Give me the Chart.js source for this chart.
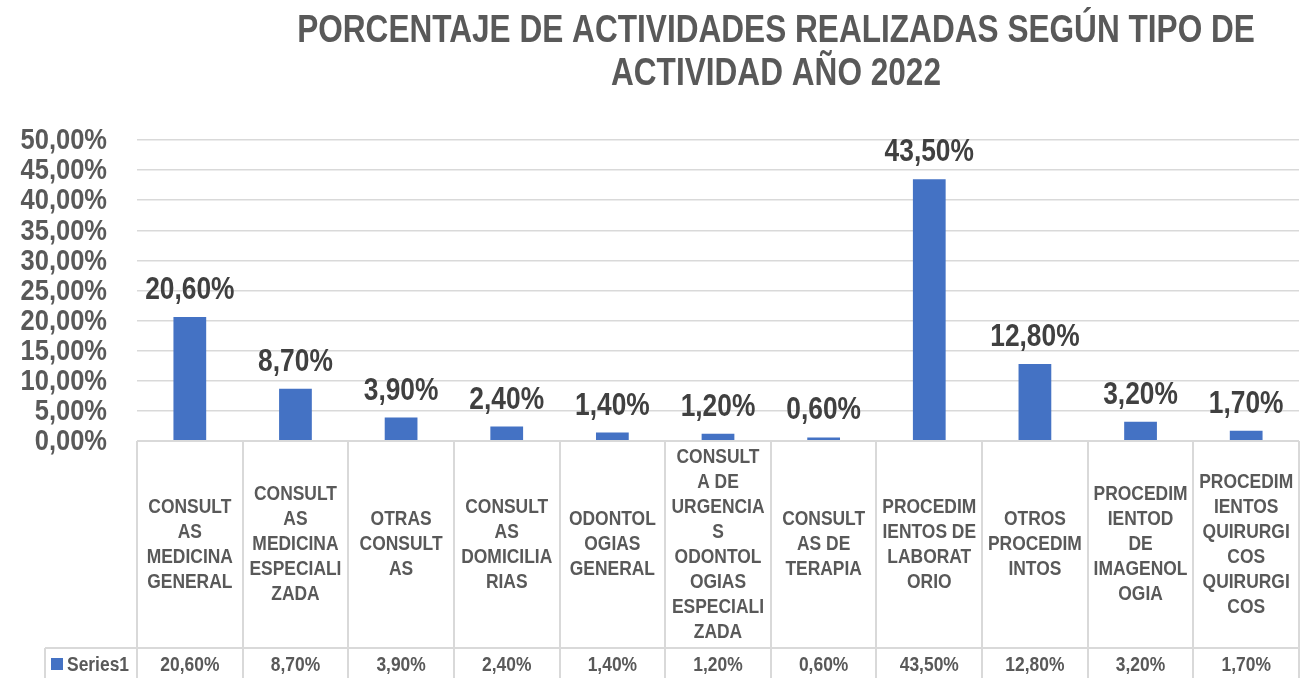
<!DOCTYPE html>
<html>
<head>
<meta charset="utf-8">
<script src="https://cdn.jsdelivr.net/npm/chart.js@4"></script>
<style>
  body { margin: 0; background: #fff; }
  #wrap { width: 1309px; height: 678px; position: relative; }
</style>
</head>
<body>
<div id="wrap"><canvas id="myChart"></canvas></div>
<script>
const titleLines = ["PORCENTAJE DE ACTIVIDADES REALIZADAS SEGÚN TIPO DE", "ACTIVIDAD AÑO 2022"];
// category labels, wrapped the same way as in the table cells
const categories = [
  ["CONSULT", "AS", "MEDICINA", "GENERAL"],
  ["CONSULT", "AS", "MEDICINA", "ESPECIALI", "ZADA"],
  ["OTRAS", "CONSULT", "AS"],
  ["CONSULT", "AS", "DOMICILIA", "RIAS"],
  ["ODONTOL", "OGIAS", "GENERAL"],
  ["CONSULT", "A DE", "URGENCIA", "S", "ODONTOL", "OGIAS", "ESPECIALI", "ZADA"],
  ["CONSULT", "AS DE", "TERAPIA"],
  ["PROCEDIM", "IENTOS DE", "LABORAT", "ORIO"],
  ["OTROS", "PROCEDIM", "INTOS"],
  ["PROCEDIM", "IENTOD", "DE", "IMAGENOL", "OGIA"],
  ["PROCEDIM", "IENTOS", "QUIRURGI", "COS", "QUIRURGI", "COS"]
];
const seriesName = "Series1";
const values = [20.6, 8.7, 3.9, 2.4, 1.4, 1.2, 0.6, 43.5, 12.8, 3.2, 1.7];
const yTicks = [0, 5, 10, 15, 20, 25, 30, 35, 40, 45, 50];

// no narrow font installed, so bold Liberation Sans is squeezed sideways
const FONT = "'Liberation Sans', Arial, sans-serif";
const barColor = "#4472C4";
const gridColor = "#d9d9d9";
const textColor = "#595959";

const fmt = v => v.toFixed(2).replace(".", ",") + "%";

function squeezed(ctx, text, x, y, sx) {
  ctx.save();
  ctx.translate(x, y);
  ctx.scale(sx, 1);
  ctx.fillText(text, 0, 0);
  ctx.restore();
}

// title, y tick labels, bar labels and the data table under the plot
const extras = {
  id: "extras",
  afterDatasetsDraw(chart) {
    const ctx = chart.ctx;
    const meta = chart.getDatasetMeta(0);
    ctx.save();
    ctx.font = "bold 31px " + FONT;
    ctx.fillStyle = "#404040";
    ctx.textAlign = "center";
    ctx.textBaseline = "alphabetic";
    meta.data.forEach((bar, i) => {
      squeezed(ctx, fmt(values[i]), bar.x, bar.y - 18, 0.85);
    });
    ctx.restore();
  },
  afterDraw(chart) {
    const ctx = chart.ctx;
    const area = chart.chartArea;
    const x = chart.scales.x;
    const y = chart.scales.y;
    const H = chart.height;
    const step = (area.right - area.left) / categories.length;
    const rowY = 648;
    const legendLeft = 45;
    ctx.save();

    // title
    ctx.fillStyle = textColor;
    ctx.font = "bold 39px " + FONT;
    ctx.textAlign = "center";
    ctx.textBaseline = "alphabetic";
    squeezed(ctx, titleLines[0], 776, 42, 0.81);
    squeezed(ctx, titleLines[1], 776, 85, 0.81);

    // y tick labels
    ctx.font = "bold 30px " + FONT;
    ctx.textAlign = "right";
    ctx.textBaseline = "middle";
    yTicks.forEach(t => squeezed(ctx, fmt(t), 107, y.getPixelForValue(t) + 1, 0.85));

    // table lines
    ctx.strokeStyle = gridColor;
    ctx.lineWidth = 2;
    ctx.beginPath();
    ctx.moveTo(area.left, area.bottom);
    ctx.lineTo(area.right, area.bottom);
    ctx.moveTo(legendLeft, rowY);
    ctx.lineTo(area.right, rowY);
    for (let i = 0; i <= categories.length; i++) {
      const bx = Math.round(area.left + i * step);
      ctx.moveTo(bx, area.bottom);
      ctx.lineTo(bx, H);
    }
    ctx.moveTo(legendLeft, rowY);
    ctx.lineTo(legendLeft, H);
    ctx.stroke();

    // category labels
    ctx.fillStyle = textColor;
    ctx.font = "bold 21px " + FONT;
    ctx.textAlign = "center";
    ctx.textBaseline = "middle";
    const lh = 25;
    const midY = (area.bottom + rowY) / 2;
    categories.forEach((lines, i) => {
      const cx = x.getPixelForValue(i);
      const y0 = midY - (lines.length - 1) * lh / 2;
      lines.forEach((l, j) => squeezed(ctx, l, cx, y0 + j * lh, 0.83));
    });

    // data row
    const valY = 665;
    values.forEach((v, i) => {
      squeezed(ctx, fmt(v), x.getPixelForValue(i), valY, 0.83);
    });

    // legend cell
    ctx.fillStyle = barColor;
    ctx.fillRect(51, 658, 12, 12);
    ctx.fillStyle = textColor;
    ctx.textAlign = "left";
    squeezed(ctx, seriesName, 67, valY, 0.83);
    ctx.restore();
  }
};

new Chart(document.getElementById("myChart"), {
  type: "bar",
  data: {
    labels: categories.map(c => c.join(" ")),
    datasets: [{
      label: seriesName,
      data: values,
      backgroundColor: barColor,
      categoryPercentage: 1,
      barPercentage: 0.31
    }]
  },
  options: {
    responsive: true,
    maintainAspectRatio: false,
    animation: false,
    layout: { padding: { top: 140, right: 10, bottom: 237, left: 0 } },
    plugins: {
      legend: { display: false },
      tooltip: { enabled: false }
    },
    scales: {
      x: { display: false },
      y: {
        min: yTicks[0],
        max: yTicks[yTicks.length - 1],
        border: { display: false },
        grid: { color: gridColor, lineWidth: 1.5, drawTicks: false },
        ticks: {
          stepSize: yTicks[1] - yTicks[0],
          autoSkip: false,
          display: false
        },
        afterFit(scale) { scale.width = 137; }
      }
    }
  },
  plugins: [extras]
});
</script>
</body>
</html>
